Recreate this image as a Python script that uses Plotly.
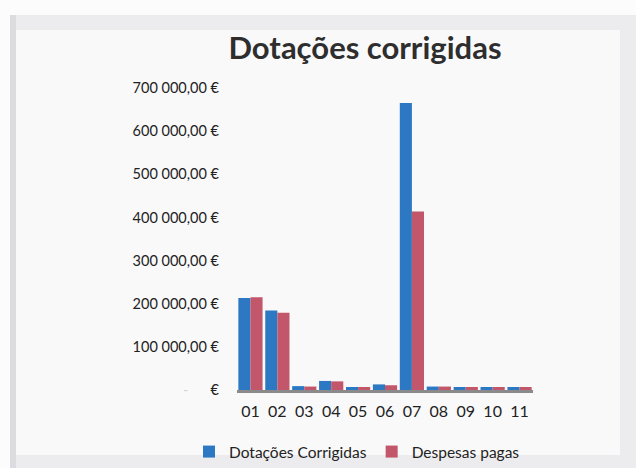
import plotly.graph_objects as go

categories = ["01", "02", "03", "04", "05", "06", "07", "08", "09", "10", "11"]
dotacoes_corrigidas = [213000, 184000, 9000, 21000, 7000, 13000, 665000, 8000, 7000, 7000, 7000]
despesas_pagas = [215000, 179000, 8000, 20000, 7000, 11000, 414000, 8000, 7000, 7000, 7000]
tick_values = [0, 100000, 200000, 300000, 400000, 500000, 600000, 700000]
tick_labels = ["<span style='color:#d5d5d5'>-</span>      €", "100 000,00 €", "200 000,00 €", "300 000,00 €",
               "400 000,00 €", "500 000,00 €", "600 000,00 €", "700 000,00 €"]

L, R, T, B = 237, 103, 88, 78
PW, PH = 636 - L - R, 468 - T - B

def px_x(p):
    return (p - L) / PW

def px_y(p):
    return (468 - B - p) / PH

fig = go.Figure()
fig.add_trace(go.Bar(x=categories, y=dotacoes_corrigidas, name="Dotações Corrigidas",
                     marker=dict(color="#2c78c2", line=dict(width=0))))
fig.add_trace(go.Bar(x=categories, y=despesas_pagas, name="Despesas pagas",
                     marker=dict(color="#c2566a", line=dict(width=0))))

shapes = [
    dict(type="rect", xref="paper", yref="paper", x0=px_x(0), x1=px_x(636), y0=px_y(15), y1=px_y(0),
         fillcolor="#fcfcfc", line=dict(width=0), layer="below"),
    dict(type="rect", xref="paper", yref="paper", x0=px_x(0), x1=px_x(10), y0=px_y(468), y1=px_y(15),
         fillcolor="#fcfcfc", line=dict(width=0), layer="below"),
    dict(type="rect", xref="paper", yref="paper", x0=px_x(10), x1=px_x(16), y0=px_y(468), y1=px_y(15),
         fillcolor="#dcdce0", line=dict(width=0), layer="below"),
    dict(type="rect", xref="paper", yref="paper", x0=px_x(16), x1=px_x(620), y0=px_y(455), y1=px_y(30),
         fillcolor="#f9f9fa", line=dict(width=0), layer="below"),
]

fig.update_layout(
    width=636, height=468,
    margin=dict(l=L, r=R, t=T, b=B, autoexpand=False),
    paper_bgcolor="#ececef",
    plot_bgcolor="rgba(0,0,0,0)",
    font=dict(family="Lato, Open Sans, sans-serif", color="#222", size=14),
    title=dict(text="<b>Dotações corrigidas</b>", x=365 / 636, xanchor="center", y=0.897, yanchor="middle",
               font=dict(size=31, color="#2e2e2e", family="Lato, Open Sans, sans-serif")),
    barmode="group", bargap=0.1, bargroupgap=0.0,
    showlegend=True,
    legend=dict(orientation="h", x=px_x(189), xanchor="left",
                y=px_y(452), yanchor="middle",
                font=dict(size=15.5, color="#222"), bgcolor="rgba(0,0,0,0)", itemwidth=30,
                traceorder="normal"),
    shapes=shapes,
)
fig.update_xaxes(showgrid=False, showline=True, linecolor="#8a8a8a", linewidth=3,
                 ticks="", tickfont=dict(size=16, color="#222"), ticklabelstandoff=5)
fig.update_yaxes(range=[0, 700000], tickvals=tick_values, ticktext=tick_labels,
                 showgrid=False, zeroline=False, showline=False, ticks="",
                 tickfont=dict(size=14.5, color="#222"), ticklabelstandoff=17)

fig.write_html("out.html", config={"displayModeBar": False},
               post_script="document.body.style.margin='0px';")
